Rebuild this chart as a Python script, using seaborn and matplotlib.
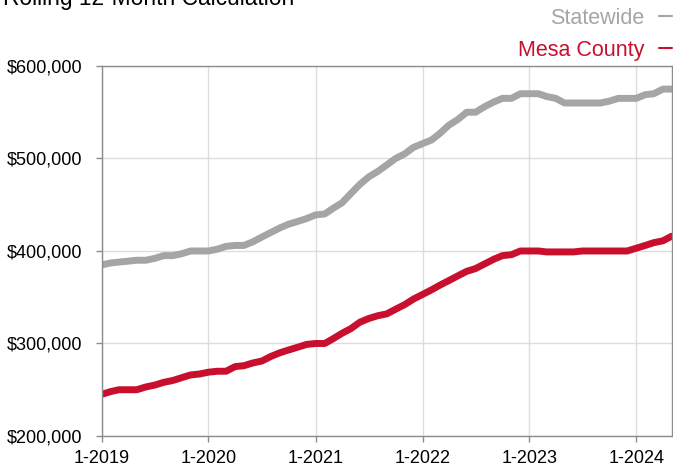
import matplotlib
matplotlib.use("Agg")
import matplotlib.pyplot as plt
import matplotlib.dates as mdates
from matplotlib.ticker import FuncFormatter
import pandas as pd
import seaborn as sns

# monthly values, 1-2019 .. 5-2024 (rolling 12-month median sales price)
months = pd.date_range("2019-01-01", periods=65, freq="MS")

statewide = [385, 387, 388, 389, 390, 390, 392, 395, 395, 397, 400, 400,
             400, 402, 405, 406, 406, 410, 415, 420, 425, 429, 432, 435,
             439, 440, 446, 452, 462, 472, 480, 486, 493, 500, 505, 512,
             516, 520, 527, 536, 542, 550, 550, 556, 561, 565, 565, 570,
             570, 570, 567, 565, 560, 560, 560, 560, 560, 562, 565, 565,
             565, 569, 570, 575, 575]

mesa_county = [245, 248, 250, 250, 250, 253, 255, 258, 260, 263, 266, 267,
               269, 270, 270, 275, 276, 279, 281, 286, 290, 293, 296, 299,
               300, 300, 305, 311, 316, 323, 327, 330, 332, 337, 342, 348,
               353, 358, 363, 368, 373, 378, 381, 386, 391, 395, 396, 400,
               400, 400, 399, 399, 399, 399, 400, 400, 400, 400, 400, 400,
               403, 406, 409, 411, 416]

series_names = ["Statewide", "Mesa County"]
colors = {"Statewide": "#a5a5a5", "Mesa County": "#c8102e"}

df = pd.DataFrame({
    "Month": list(months) * 2,
    "Price": [v * 1000 for v in statewide + mesa_county],
    "Area": ["Statewide"] * len(statewide) + ["Mesa County"] * len(mesa_county),
})

sns.set_theme(style="whitegrid")
plt.rcParams["font.family"] = ["Liberation Sans", "DejaVu Sans"]

fig = plt.figure(figsize=(6.73, 4.66), dpi=100)
ax = fig.add_axes([0.151, 0.0644, 0.847, 0.7940])

sns.lineplot(data=df, x="Month", y="Price", hue="Area", hue_order=series_names,
             palette=colors, linewidth=5, ax=ax, legend=False)

ax.set_xlim(pd.Timestamp("2019-01-01"), pd.Timestamp("2024-05-01"))
ax.set_ylim(200000, 600000)
ax.set_yticks([200000, 300000, 400000, 500000, 600000])
ax.yaxis.set_major_formatter(FuncFormatter(lambda v, p: "${:,.0f}".format(v)))
ax.xaxis.set_major_locator(mdates.YearLocator(month=1))
ax.xaxis.set_major_formatter(FuncFormatter(lambda v, p: "1-" + mdates.num2date(v).strftime("%Y")))
ax.set_xlabel("")
ax.set_ylabel("")

ax.grid(True, color="#dddddd", linewidth=1)
for side, sp in ax.spines.items():
    sp.set_color("#8c8c8c")
    sp.set_linewidth(1)
ax.tick_params(axis="both", labelsize=13, colors="#8c8c8c", labelcolor="black",
               length=4, width=1, direction="out")
ax.tick_params(axis="y", pad=10)
ax.tick_params(axis="x", pad=6)
ax.tick_params(left=True, bottom=True)

# legend top right, dash after label
handles = [plt.Line2D([], [], color=colors[n], linewidth=1.5) for n in series_names]
fig.legend(handles, series_names, loc="upper right", bbox_to_anchor=(672 / 673, 1 - 8 / 466),
           frameon=False, markerfirst=False, labelcolor="linecolor", fontsize=15.5,
           handlelength=0.6, handletextpad=0.7, labelspacing=0.5, borderaxespad=0, borderpad=0)

fig.text(0.005, 1 - 5 / 466, "Rolling 12-Month Calculation", fontsize=16.4,
         ha="left", va="baseline", color="black")

fig.savefig("out.png", dpi=100)
